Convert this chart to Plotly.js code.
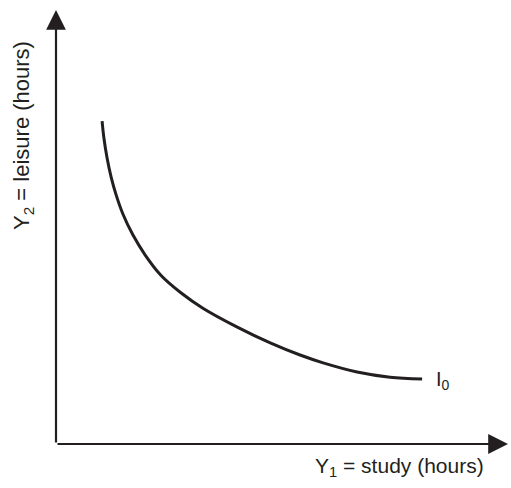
<!DOCTYPE html>
<html>
<head>
<meta charset="utf-8">
<script src="https://cdn.plot.ly/plotly-3.0.1.min.js"></script>
<style>html,body{margin:0;padding:0;background:#fff;}#chart{width:511px;height:488px;}</style>
</head>
<body>
<div id="chart"></div>
<script>
// Indifference curve I0 (study hours vs leisure hours)
const studyHours   = [1.02, 1.06, 1.13, 1.22, 1.33, 1.48, 1.70, 1.97, 2.32, 2.77, 3.25, 4.00, 4.74, 5.40, 5.91, 6.66, 7.39, 8.10];
const leisureHours = [7.44, 7.05, 6.59, 6.15, 5.74, 5.30, 4.82, 4.36, 3.89, 3.48, 3.13, 2.70, 2.33, 2.05, 1.87, 1.66, 1.54, 1.50];
const curveLabel = "I<sub>0</sub>";
const xLabel = "Y<sub>1</sub> = study (hours)";
const yLabel = "Y<sub>2</sub> = leisure (hours)";
const axisMax = 10;

const ink = "#231f20";
const fontFamily = "Liberation Sans, Arial, sans-serif";

const traces = [{
  x: studyHours,
  y: leisureHours,
  mode: "lines",
  line: {color: ink, width: 3, shape: "spline", smoothing: 1},
  hoverinfo: "skip",
  showlegend: false
}];

const n = studyHours.length - 1;
const layout = {
  width: 511, height: 488,
  margin: {l: 56, r: 3, t: 10, b: 44},
  paper_bgcolor: "#fff", plot_bgcolor: "#fff",
  xaxis: {range: [0, axisMax], visible: false, fixedrange: true},
  yaxis: {range: [0, axisMax], visible: false, fixedrange: true},
  showlegend: false,
  annotations: [
    {x: axisMax, y: 0, ax: 0, ay: 0, xref: "x", yref: "y", axref: "x", ayref: "y",
     text: "", showarrow: true, arrowhead: 2, arrowsize: 1.8, arrowwidth: 2.2, arrowcolor: ink, standoff: 0},
    {x: 0, y: axisMax, ax: 0, ay: 0, xref: "x", yref: "y", axref: "x", ayref: "y",
     text: "", showarrow: true, arrowhead: 2, arrowsize: 1.8, arrowwidth: 2.2, arrowcolor: ink, standoff: 0},
    {x: studyHours[n], y: leisureHours[n], xref: "x", yref: "y", text: curveLabel, showarrow: false,
     xanchor: "left", yanchor: "middle", xshift: 12, yshift: -2,
     font: {family: fontFamily, size: 20, color: ink}},
    {x: 1, y: 0, xref: "paper", yref: "paper", text: xLabel, showarrow: false,
     xanchor: "right", yanchor: "top", xshift: -22, yshift: -8,
     font: {family: fontFamily, size: 21, color: ink}},
    {x: 0, y: 0.7097, xref: "paper", yref: "paper", text: yLabel, showarrow: false, textangle: -90,
     xanchor: "center", yanchor: "middle", xshift: -33, yshift: 0,
     font: {family: fontFamily, size: 22, color: ink}}
  ]
};

Plotly.newPlot("chart", traces, layout, {staticPlot: true, displayModeBar: false});
</script>
</body>
</html>
